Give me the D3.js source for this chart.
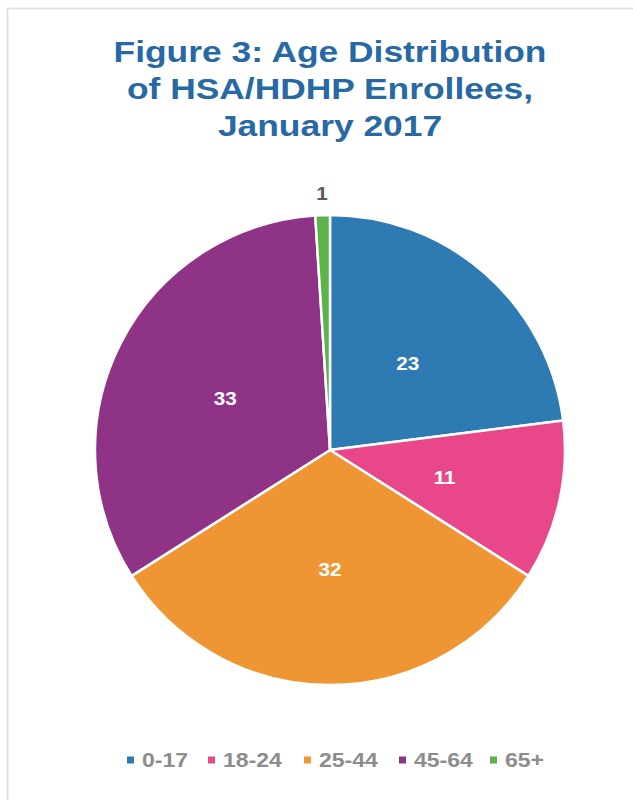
<!DOCTYPE html>
<html>
<head>
<meta charset="utf-8">
<script src="https://cdn.jsdelivr.net/npm/d3@7"></script>
<style>
  html, body { margin: 0; padding: 0; background: #fff; }
  svg { display: block; }
</style>
</head>
<body>
<svg id="chart" width="633" height="800"></svg>
<script>
// Age groups and their share of enrollees (percent)
const categories = ["0-17", "18-24", "25-44", "45-64", "65+"];
const values = [23, 11, 32, 33, 1];
const colors = ["#2E7BB4", "#E8488A", "#F09534", "#8E3386", "#5AB44A"];
const titleLines = ["Figure 3: Age Distribution", "of HSA/HDHP Enrollees,", "January 2017"];

const svg = d3.select("#chart");
const W = 633, H = 800;
const cx = 330, cy = 450, R = 235;
const font = "'Liberation Sans', Arial, Helvetica, sans-serif";
const stretch = 1.2; // horizontal stretch applied to text

// panel frame
svg.append("path")
  .attr("d", `M7.5,${H} V8.5 H${W}`)
  .attr("fill", "none")
  .attr("stroke", "#e3e3e3")
  .attr("stroke-width", 2);

// title
svg.append("g")
  .attr("transform", `translate(${cx},0) scale(${stretch + 0.02},1)`)
  .selectAll("text")
  .data(titleLines)
  .join("text")
  .attr("x", 0)
  .attr("y", (d, i) => 62 + i * 37)
  .attr("text-anchor", "middle")
  .attr("font-family", font)
  .attr("font-weight", "bold")
  .attr("font-size", 29)
  .attr("fill", "#2769A5")
  .text(d => d);

const data = categories.map((c, i) => ({ cat: c, value: values[i], color: colors[i] }));

const pie = d3.pie().value(d => d.value).sort(null);
const arcs = pie(data);
const arc = d3.arc().innerRadius(0).outerRadius(R);
const labelArc = d3.arc().innerRadius(R * 0.5).outerRadius(R * 0.5);
const outerLabelArc = d3.arc().innerRadius(R + 22).outerRadius(R + 22);

const g = svg.append("g").attr("transform", `translate(${cx},${cy})`);

g.selectAll("path")
  .data(arcs)
  .join("path")
  .attr("d", arc)
  .attr("fill", d => d.data.color)
  .attr("stroke", "#fff")
  .attr("stroke-width", 2.5)
  .attr("stroke-linejoin", "round");

// value labels: inside for large slices, above the rim for tiny ones
g.selectAll("text")
  .data(arcs)
  .join("text")
  .attr("transform", d => {
    const small = d.data.value < 5;
    const [x, y] = (small ? outerLabelArc : labelArc).centroid(d);
    return `translate(${x},${y + (small ? 0 : 2)}) scale(${stretch - 0.05},1)`;
  })
  .attr("text-anchor", "middle")
  .attr("dominant-baseline", "central")
  .attr("font-family", font)
  .attr("font-weight", "bold")
  .attr("font-size", 18)
  .attr("fill", d => d.data.value < 5 ? "#595959" : "#ffffff")
  .text(d => d.data.value);

// legend
const legendX = [127, 208, 304, 399, 490];
const legend = svg.append("g").attr("transform", "translate(0,760)");
const items = legend.selectAll("g")
  .data(data)
  .join("g")
  .attr("transform", (d, i) => `translate(${legendX[i]},0)`);
items.append("rect")
  .attr("x", 0).attr("y", -3.5)
  .attr("width", 7).attr("height", 7)
  .attr("fill", d => d.color);
items.append("text")
  .attr("transform", `translate(15,0) scale(${stretch - 0.05},1)`)
  .attr("dominant-baseline", "central")
  .attr("font-family", font)
  .attr("font-weight", "bold")
  .attr("font-size", 20)
  .attr("fill", "#8C8C8C")
  .text(d => d.cat);
</script>
</body>
</html>
